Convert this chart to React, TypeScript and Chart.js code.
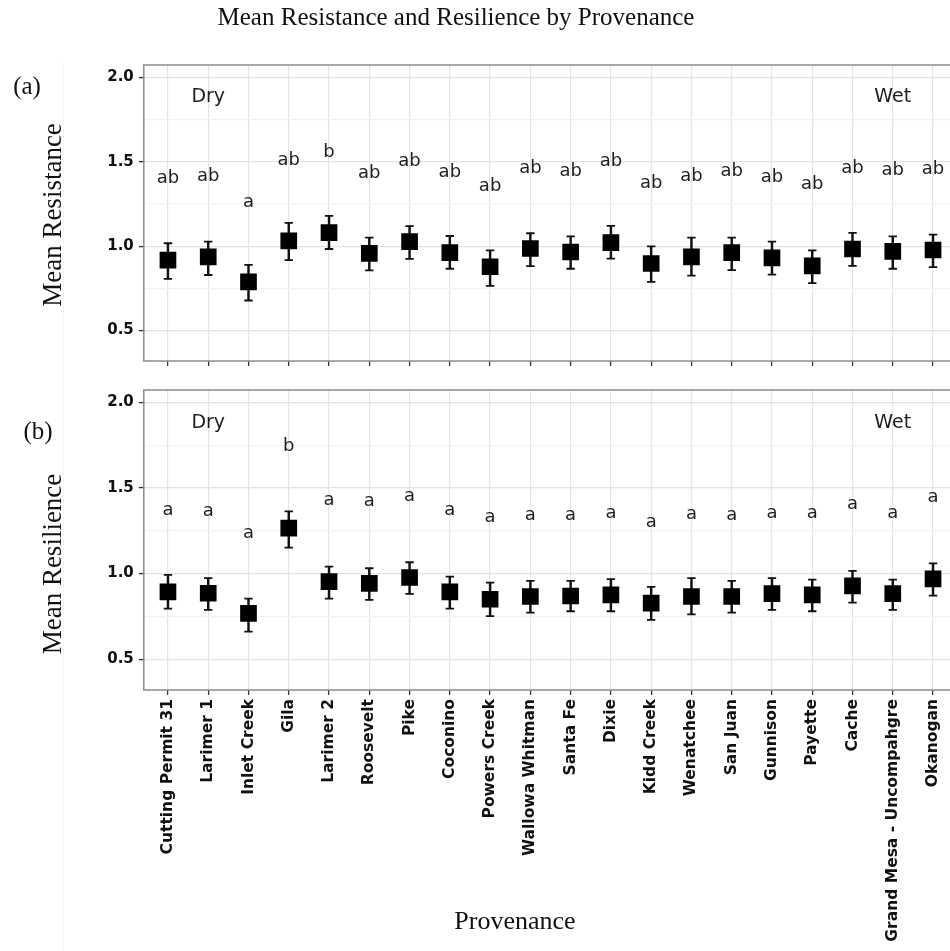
import React, { useEffect, useRef } from 'react';
import { Chart, registerables } from 'chart.js';

Chart.register(...registerables);

const provenances = [
  'Cutting Permit 31', 'Larimer 1', 'Inlet Creek', 'Gila', 'Larimer 2', 'Roosevelt', 'Pike',
  'Coconino', 'Powers Creek', 'Wallowa Whitman', 'Santa Fe', 'Dixie', 'Kidd Creek', 'Wenatchee',
  'San Juan', 'Gunnison', 'Payette', 'Cache', 'Grand Mesa - Uncompahgre', 'Okanogan',
];

const resistanceMean = [0.917, 0.936, 0.788, 1.031, 1.080, 0.957, 1.027, 0.961, 0.878, 0.986, 0.965, 1.021, 0.897, 0.936, 0.961, 0.930, 0.883, 0.983, 0.969, 0.977];
const resistanceUpper = [1.017, 1.027, 0.889, 1.138, 1.179, 1.050, 1.118, 1.060, 0.975, 1.076, 1.058, 1.120, 0.998, 1.050, 1.050, 1.027, 0.975, 1.078, 1.058, 1.068];
const resistanceLower = [0.806, 0.829, 0.678, 0.917, 0.983, 0.856, 0.924, 0.866, 0.765, 0.882, 0.866, 0.926, 0.788, 0.825, 0.858, 0.831, 0.781, 0.883, 0.866, 0.876];
const resistanceLetters = ['ab', 'ab', 'a', 'ab', 'b', 'ab', 'ab', 'ab', 'ab', 'ab', 'ab', 'ab', 'ab', 'ab', 'ab', 'ab', 'ab', 'ab', 'ab', 'ab'];
const resistanceLetterY = [1.400, 1.412, 1.260, 1.507, 1.557, 1.431, 1.499, 1.439, 1.355, 1.462, 1.441, 1.501, 1.371, 1.414, 1.443, 1.406, 1.365, 1.458, 1.449, 1.452];

const resilienceMean = [0.893, 0.885, 0.768, 1.265, 0.953, 0.943, 0.977, 0.893, 0.850, 0.866, 0.869, 0.875, 0.827, 0.866, 0.866, 0.883, 0.875, 0.928, 0.883, 0.969];
const resilienceUpper = [0.992, 0.973, 0.854, 1.363, 1.041, 1.031, 1.066, 0.982, 0.947, 0.957, 0.957, 0.967, 0.922, 0.973, 0.957, 0.973, 0.965, 1.016, 0.965, 1.060];
const resilienceLower = [0.795, 0.788, 0.661, 1.152, 0.854, 0.846, 0.881, 0.795, 0.752, 0.772, 0.780, 0.780, 0.729, 0.762, 0.772, 0.788, 0.780, 0.830, 0.788, 0.871];
const resilienceLetters = ['a', 'a', 'a', 'b', 'a', 'a', 'a', 'a', 'a', 'a', 'a', 'a', 'a', 'a', 'a', 'a', 'a', 'a', 'a', 'a'];
const resilienceLetterY = [1.370, 1.361, 1.234, 1.745, 1.429, 1.421, 1.452, 1.370, 1.327, 1.343, 1.343, 1.353, 1.300, 1.345, 1.343, 1.351, 1.351, 1.404, 1.353, 1.446];

const yTickValues = [0.5, 0.75, 1, 1.25, 1.5, 1.75, 2];
const yMajorTicks = [0.5, 1, 1.5, 2];
const Y_MIN = 0.32;
const Y_MAX = 2.072;
const X_MIN = -0.6;
const X_MAX = 19.6;

const climateNotes = ['Dry', 'Wet'];
const climateNoteX = [1, 18];
const climateNoteY = 1.88;

const isMajor = (v: number) => yMajorTicks.some((m) => Math.abs(m - v) < 1e-6);

function makeTextPlugin(letters: string[], letterY: number[]) {
  return {
    id: 'panelText',
    beforeDatasetsDraw(chart: any) {
      const { ctx, chartArea: a } = chart;
      ctx.save();
      ctx.strokeStyle = '#8c8c8c';
      ctx.lineWidth = 1.5;
      ctx.strokeRect(a.left, a.top, a.right - a.left, a.bottom - a.top);
      ctx.restore();
    },
    afterDatasetsDraw(chart: any) {
      const { ctx } = chart;
      const x = chart.scales.x;
      const y = chart.scales.y;
      ctx.save();
      ctx.fillStyle = '#1e1e1e';
      ctx.textAlign = 'center';
      ctx.textBaseline = 'middle';
      ctx.font = '18px "DejaVu Sans"';
      letters.forEach((t, i) => {
        ctx.fillText(t, x.getPixelForValue(i), y.getPixelForValue(letterY[i]));
      });
      ctx.font = '19px "DejaVu Sans"';
      climateNotes.forEach((t, i) => {
        ctx.fillText(t, x.getPixelForValue(climateNoteX[i]), y.getPixelForValue(climateNoteY));
      });
      ctx.restore();
    },
  };
}

function makeConfig(
  means: number[], upper: number[], lower: number[], letters: string[], letterY: number[],
  showLabels: boolean, padTop: number, xHeight: number,
) {
  const yTickFont = { family: 'DejaVu Sans', weight: 'bold' as const, size: 15 };
  const xTickFont = { family: 'DejaVu Sans', weight: 'bold' as const, size: 15.5 };
  return {
    type: 'scatter' as const,
    data: {
      datasets: [
        {
          type: 'scatter' as const,
          data: means.map((m, i) => ({ x: i, y: m })),
          pointStyle: 'rect',
          pointRadius: 11.8,
          pointHoverRadius: 11.8,
          backgroundColor: '#000',
          borderColor: '#000',
          borderWidth: 0,
          order: 0,
        },
        {
          type: 'scatter' as const,
          data: [
            ...upper.map((v, i) => ({ x: i, y: v })),
            ...lower.map((v, i) => ({ x: i, y: v })),
          ],
          pointStyle: 'line',
          pointRadius: 4.2,
          pointHoverRadius: 4.2,
          borderColor: '#111',
          backgroundColor: '#111',
          borderWidth: 1.8,
          order: 1,
        },
        {
          type: 'bar' as const,
          data: lower.map((v, i) => ({ x: i, y: [v, upper[i]] })),
          barThickness: 1.8,
          backgroundColor: '#111',
          borderWidth: 0,
          grouped: false,
          order: 2,
        },
      ],
    },
    options: {
      responsive: false,
      animation: false,
      events: [],
      layout: { padding: { left: 0, right: 12.8, top: padTop, bottom: 0 } },
      plugins: { legend: { display: false }, tooltip: { enabled: false }, title: { display: false } },
      scales: {
        x: {
          type: 'linear',
          min: X_MIN,
          max: X_MAX,
          offset: false,
          afterBuildTicks: (s: any) => { s.ticks = provenances.map((_, i) => ({ value: i })); },
          afterFit: (s: any) => { s.height = xHeight; },
          border: { display: false },
          grid: { offset: false, color: '#e4e4e4', lineWidth: 1.2, tickColor: '#333', tickLength: 5, tickWidth: 1.3 },
          ticks: {
            display: showLabels,
            autoSkip: false,
            minRotation: 90,
            maxRotation: 90,
            padding: 4,
            font: xTickFont,
            color: '#111',
            callback: (v: any) => provenances[Math.round(v)] ?? '',
          },
        },
        y: {
          type: 'linear',
          min: Y_MIN,
          max: Y_MAX,
          afterBuildTicks: (s: any) => { s.ticks = yTickValues.map((v) => ({ value: v })); },
          afterFit: (s: any) => { s.width = 143.8; },
          border: { display: false },
          grid: {
            color: (c: any) => (c.tick && isMajor(c.tick.value) ? '#e2e2e2' : '#f2f2f2'),
            lineWidth: 1.2,
            tickColor: (c: any) => (c.tick && isMajor(c.tick.value) ? '#333' : 'rgba(0,0,0,0)'),
            tickLength: 5,
            tickWidth: 1.3,
          },
          ticks: {
            padding: 5,
            font: yTickFont,
            color: '#111',
            callback: (v: any) => (isMajor(v) ? Number(v).toFixed(1) : ''),
          },
        },
      },
    },
    plugins: [makeTextPlugin(letters, letterY)],
  };
}

const serif = '"Liberation Serif", "Times New Roman", serif';

function Label({ text, x, y, size, rotate = false }: { text: string; x: number; y: number; size: number; rotate?: boolean }) {
  return (
    <div
      style={{
        position: 'absolute', left: x, top: y, fontFamily: serif, fontSize: size, lineHeight: 1,
        whiteSpace: 'nowrap', color: '#111',
        transform: `translate(-50%, -50%)${rotate ? ' rotate(-90deg)' : ''}`,
      }}
    >
      {text}
    </div>
  );
}

export default function App() {
  const refA = useRef<HTMLCanvasElement | null>(null);
  const refB = useRef<HTMLCanvasElement | null>(null);

  useEffect(() => {
    const a = new Chart(refA.current as HTMLCanvasElement, makeConfig(
      resistanceMean, resistanceUpper, resistanceLower, resistanceLetters, resistanceLetterY, false, 65, 10,
    ) as any);
    const b = new Chart(refB.current as HTMLCanvasElement, makeConfig(
      resilienceMean, resilienceUpper, resilienceLower, resilienceLetters, resilienceLetterY, true, 20, 261,
    ) as any);
    return () => { a.destroy(); b.destroy(); };
  }, []);

  return (
    <div style={{ position: 'fixed', left: 0, top: 0, width: 950, height: 951, overflow: 'hidden', background: '#fff' }}>
      <div style={{ position: 'absolute', left: 63, top: 62, width: 1, height: 889, background: '#f4f4f4' }} />
      <canvas ref={refA} width={970} height={375} style={{ position: 'absolute', left: 0, top: 0, width: 970, height: 375 }} />
      <canvas ref={refB} width={970} height={581} style={{ position: 'absolute', left: 0, top: 370, width: 970, height: 581 }} />
      <Label text="Mean Resistance and Resilience by Provenance" x={456} y={16} size={25} />
      <Label text="(a)" x={27} y={85} size={25} />
      <Label text="(b)" x={38} y={430} size={25} />
      <Label text="Mean Resistance" x={52} y={215} size={27} rotate />
      <Label text="Mean Resilience" x={52} y={564} size={27} rotate />
      <Label text="Provenance" x={515} y={921} size={26} />
    </div>
  );
}
